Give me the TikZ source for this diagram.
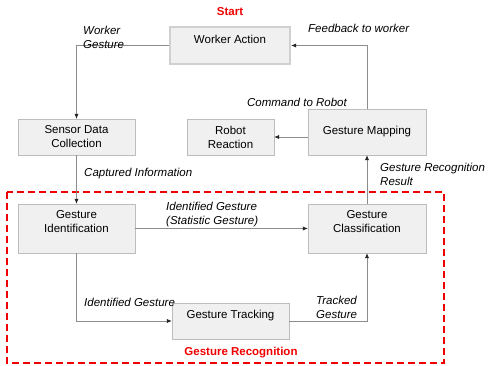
\documentclass[tikz,border=0pt]{standalone}
\usepackage{fontspec}
\setmainfont{Liberation Sans}
\usetikzlibrary{arrows.meta,positioning}

\definecolor{boxfill}{HTML}{F0F0F0}
\definecolor{boxline}{HTML}{BDBDBD}
\definecolor{flowline}{HTML}{8C8C8C}
\definecolor{markred}{HTML}{F00000}

\tikzset{
  box/.style={draw=boxline,fill=boxfill,align=center,inner sep=0pt,
    font=\fontsize{11.5}{14}\selectfont},
  tag/.style={inner sep=0pt,align=left,font=\fontsize{11.5}{14}\selectfont\itshape},
  title/.style={inner sep=0pt,text=markred,font=\fontsize{11.5}{14}\selectfont\bfseries},
  flow/.style={draw=flowline,line width=0.8pt,-{Latex[length=5pt,width=4.4pt,color=black!85]}}
}

\begin{document}
\begin{tikzpicture}[x=1pt,y=-1pt]
\useasboundingbox (0,0) rectangle (488,366);

% processing steps
\node [box,minimum width=120,minimum height=37,text depth=13pt,
       draw={rgb,255:red,208;green,208;blue,208},line width=2.4pt] (act) at (230,45.5) {Worker Action};
\node [box,minimum width=117,minimum height=36] (sens) at (76.5,137) {Sensor Data\\Collection};
\node [box,minimum width=87,minimum height=36] (robo) at (230.5,137) {Robot\\Reaction};
\node [box,minimum width=118,minimum height=46] (map) at (367,132) {Gesture Mapping};
\node [box,minimum width=117,minimum height=49,text depth=14pt] (ident) at (76.5,228.5) {Gesture\\Identification};
\node [box,minimum width=118,minimum height=49,text depth=14pt] (class) at (367,228.5) {Gesture\\Classification};
\node [box,minimum width=117,minimum height=36,text depth=14pt] (track) at (230.5,321) {Gesture Tracking};

% recognition block
\draw [markred,line width=2.2pt,dash pattern=on 7pt off 4pt] (7,192) rectangle (444,363);
\node [title] (start) at (230,12) {Start};
\node [title] (recog) at (241,353) {Gesture Recognition};

% connectors
\draw [flow] (act.west) -| (sens.north);
\draw [flow] (sens) -- (ident);
\draw [flow] (ident.east) -- (class.west);
\draw [flow] (ident.south) |- (track.west);
\draw [flow] (track.east) -| (class.south);
\draw [flow] (class.north) -- (map.south);
\draw [flow] (map.west |- robo.east) -- (robo.east);
\draw [flow] (map.north) |- (act.east);

% connector labels
\node [tag,anchor=west] (lworker) at (83,37) {Worker\\Gesture};
\node [tag,anchor=west] (lfeed) at (308,28) {Feedback to worker};
\node [tag,anchor=east] (lcmd) at (347,102) {Command to Robot};
\node [tag,anchor=west] (lcapt) at (84,174) {Captured Information};
\node [tag,anchor=west] (lresult) at (380,174) {Gesture Recognition\\Result};
\node [tag,anchor=west] (lstat) at (166,215) {Identified Gesture\\(Statistic Gesture)};
\node [tag,anchor=west] (lident) at (84,302) {Identified Gesture};
\node [tag,anchor=west] (ltrack) at (316,307) {Tracked\\Gesture};
\end{tikzpicture}
\end{document}
